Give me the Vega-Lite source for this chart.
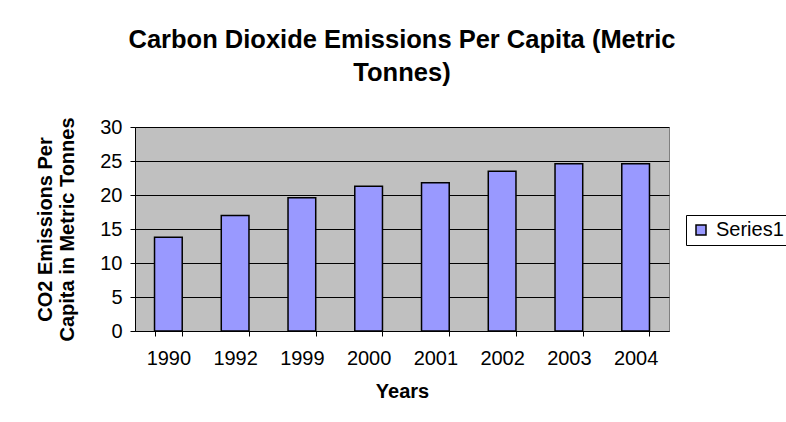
{
  "$schema": "https://vega.github.io/schema/vega-lite/v6.json",
  "width": 534,
  "height": 204,
  "autosize": {"type": "none"},
  "padding": {"left": 135, "top": 127, "right": 117, "bottom": 91},
  "background": "white",
  "title": {
    "text": ["Carbon Dioxide Emissions Per Capita (Metric", "Tonnes)"],
    "anchor": "middle",
    "frame": "group",
    "font": "Liberation Sans",
    "fontSize": 25.5,
    "fontWeight": "bold",
    "color": "black",
    "lineHeight": 33,
    "offset": 30
  },
  "data": {
    "values": [
      {"Year": "1990", "Value": 13.8},
      {"Year": "1992", "Value": 17.0},
      {"Year": "1999", "Value": 19.6},
      {"Year": "2000", "Value": 21.3},
      {"Year": "2001", "Value": 21.8},
      {"Year": "2002", "Value": 23.5},
      {"Year": "2003", "Value": 24.6},
      {"Year": "2004", "Value": 24.6}
    ]
  },
  "mark": {"type": "bar", "stroke": "black", "strokeWidth": 1.5},
  "encoding": {
    "x": {
      "field": "Year",
      "type": "ordinal",
      "sort": null,
      "scale": {"paddingInner": 0.585, "paddingOuter": 0.2925},
      "axis": {
        "title": "Years",
        "labelAngle": 0,
        "tickBand": "extent",
        "tickSize": 5,
        "tickColor": "black",
        "domainColor": "black",
        "labelPadding": 12,
        "titlePadding": 13
      }
    },
    "y": {
      "field": "Value",
      "type": "quantitative",
      "scale": {"domain": [0, 30], "nice": false},
      "axis": {
        "title": ["CO2 Emissions Per", "Capita in Metric Tonnes"],
        "values": [0, 5, 10, 15, 20, 25, 30],
        "tickSize": 5,
        "tickColor": "black",
        "domainColor": "black",
        "gridColor": "black",
        "gridOpacity": 1,
        "labelPadding": 8,
        "titlePadding": 22,
        "titleLineHeight": 22
      }
    },
    "color": {
      "datum": "Series1",
      "type": "nominal",
      "scale": {"range": ["#9999FF"]},
      "legend": {
        "title": null,
        "orient": "none",
        "legendX": 551,
        "legendY": 88,
        "symbolType": "square",
        "symbolSize": 100,
        "symbolStrokeColor": "black",
        "symbolStrokeWidth": 1.5,
        "symbolOpacity": 1,
        "labelOffset": 5,
        "strokeColor": "black",
        "fillColor": "white",
        "padding": 5
      }
    }
  },
  "config": {
    "font": "Liberation Sans",
    "view": {"fill": "#C0C0C0", "stroke": "#808080"},
    "axis": {
      "labelFont": "Liberation Sans",
      "labelFontSize": 20,
      "labelColor": "black",
      "titleFont": "Liberation Sans",
      "titleFontSize": 20,
      "titleFontWeight": "bold",
      "titleColor": "black"
    },
    "axisX": {"grid": false},
    "legend": {"labelFont": "Liberation Sans", "labelFontSize": 20, "labelColor": "black"}
  }
}
